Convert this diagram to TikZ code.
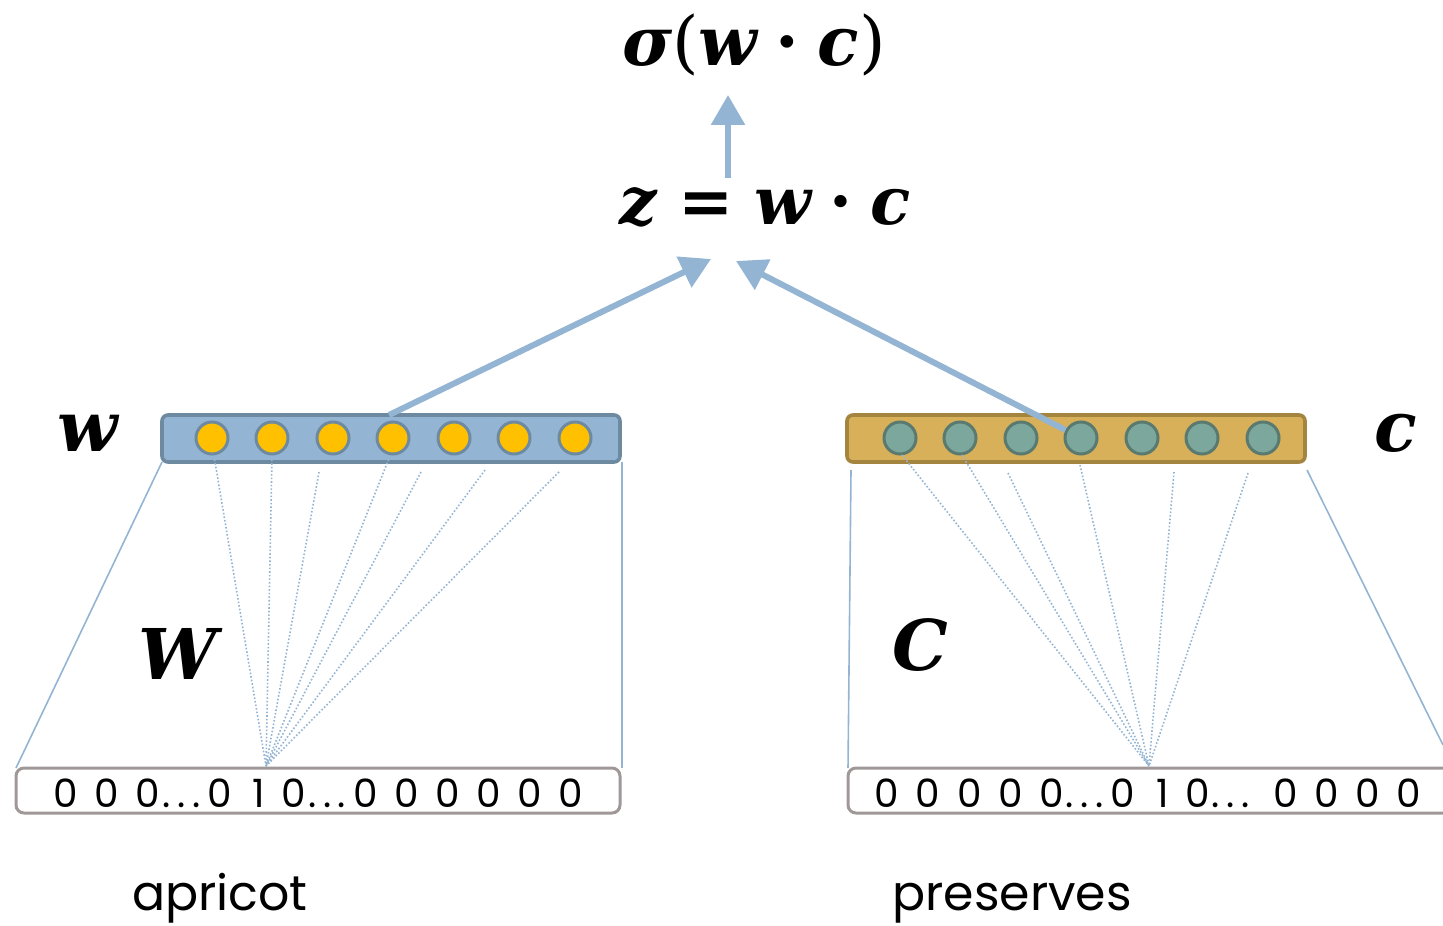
\documentclass[tikz,border=0pt]{standalone}
\usepackage{fontspec}
\newfontfamily\geo{Poppins}
\newfontfamily\geobits[LetterSpace=6,WordSpace=1.3]{Poppins}
\newfontfamily\symbi{DejaVu Serif}[UprightFont=* Bold Italic]
\newfontfamily\symrm{DejaVu Serif}
\newfontfamily\symbd{DejaVu Serif}[UprightFont=* Bold]
\newcommand{\vb}[1]{{\symbi #1}}
\newcommand{\dotop}{\hspace{0.27em}{\symbd ·}\hspace{0.27em}}
\newcommand{\eqop}{\hspace{0.32em}{\symbd =}\hspace{0.32em}}
% widely spaced ellipsis for the one-hot rows
\newcommand{\dd}{.\kern3.4pt.\kern3.4pt.\kern3.4pt}
\usetikzlibrary{arrows.meta}
\definecolor{linkblue}{HTML}{94B4D3}
\definecolor{wfill}{HTML}{94B4D3}
\definecolor{wedge}{HTML}{6E8AA0}
\definecolor{unitgold}{HTML}{FFC000}
\definecolor{cfill}{HTML}{D8B05A}
\definecolor{cedge}{HTML}{A4853F}
\definecolor{unitteal}{HTML}{7BA79D}
\definecolor{tealedge}{HTML}{5A7A70}
\definecolor{onehot}{HTML}{A09898}
\tikzset{
  x=0.5pt, y=-0.5pt,
  bar/.style={rectangle, rounded corners=3pt, line width=1.8pt,
    minimum width=229pt, minimum height=23.5pt, inner sep=0pt},
  wbar/.style={bar, fill=wfill, draw=wedge},
  cbar/.style={bar, fill=cfill, draw=cedge},
  unit/.style={circle, minimum size=16pt, inner sep=0pt, line width=1.5pt},
  wunit/.style={unit, fill=unitgold, draw=wedge},
  cunit/.style={unit, fill=unitteal, draw=tealedge},
  hotbox/.style={rectangle, rounded corners=4pt, line width=1.5pt, draw=onehot,
    minimum height=22.5pt, inner sep=0pt},
  flow/.style={draw=linkblue, line width=3pt,
    -{Triangle[width=16.5pt,length=15pt]}},
  frame/.style={draw=linkblue, line width=0.8pt},
  weight/.style={draw=linkblue, line width=0.8pt, dash pattern=on 0.8pt off 1pt},
  mathlbl/.style={inner sep=0pt, font=\fontsize{35}{40}\selectfont},
  word/.style={inner sep=0pt, anchor=base, font=\geo\fontsize{24.5}{28}\selectfont},
  bits/.style={inner sep=0pt, anchor=base, font=\geobits\fontsize{19.5}{22}\selectfont}
}
\begin{document}
\begin{tikzpicture}
\useasboundingbox (0,0) rectangle (1443,925);

% output and score
\node[mathlbl, font=\fontsize{34}{40}\selectfont] (sig) at (754,45)
  {\vb{σ}{\symrm(}\vb{w}\dotop\vb{c}{\symrm)}};
\node[mathlbl, font=\fontsize{33}{40}\selectfont] (z) at (765,207)
  {\vb{z}\eqop\vb{w}\dotop\vb{c}};
\coordinate (zbase) at (728,178);
\coordinate (sigbase) at (728,95);
\coordinate (zinl) at (711,259);
\coordinate (zinr) at (736,261);
\draw[flow] (zbase) -- (sigbase);

% embedding rows
\node[wbar] (wbar) at (391,438.5) {};
\node[cbar] (cbar) at (1076,438.5) {};
\foreach \i/\x in {1/212,2/272,3/333,4/393,5/454,6/514,7/575}
  \node[wunit] (w\i) at (\x,438) {};
\foreach \i/\x in {1/900,2/960,3/1021,4/1081,5/1142,6/1202,7/1263}
  \node[cunit] (c\i) at (\x,438) {};

\coordinate (wtop) at (389,415);
\draw[flow] (wtop) -- (zinl);
\draw[flow] (c4) -- (zinr);

\node[mathlbl] (wl) at (88,433) {\vb{w}};
\node[mathlbl] (cl) at (1396,433) {\vb{c}};

% one-hot inputs
\node[hotbox, minimum width=302pt] (hw) at (318,790.5) {};
\node[bits] (hwt) at (318,807) {0 0 0\dd0 \kern2pt1 0\dd0 0 0 0 0 0};
\node[hotbox, minimum width=320pt] (hc) at (1168,790.5) {};
\node[bits] (hct) at (1148,807) {0 0 0 0 0\dd0 \kern2pt1 0\dd\ 0 0 0 0};

\node[word] (ap) at (220,910) {apricot};
\node[word] (pr) at (1012,910) {preserves};

% projection frames
\coordinate (wa) at (162,462); \coordinate (wb) at (16,768);
\coordinate (wc) at (622,462); \coordinate (wd) at (622,768);
\coordinate (ca) at (851,470); \coordinate (cb) at (848,768);
\coordinate (cc) at (1307,470); \coordinate (cd) at (1443,745);
\draw[frame] (wa) -- (wb);
\draw[frame] (wc) -- (wd);
\draw[frame] (ca) -- (cb);
\draw[frame] (cc) -- (cd);

\node[mathlbl] (Wl) at (178,654) {\vb{W}};
\node[mathlbl] (Cl) at (920,645) {\vb{C}};

% weights from the active input unit
\coordinate (whot) at (266,766);
\foreach \s in {(214,456),(272,456),(319,472),(390,456),(421,472),(485,470),(559,472)}
  \draw[weight] \s -- (whot);
\coordinate (chot) at (1149,766);
\foreach \s in {(902,455),(962,455),(1008,473),(1080,465),(1174,472),(1248,473)}
  \draw[weight] \s -- (chot);
\end{tikzpicture}
\end{document}
